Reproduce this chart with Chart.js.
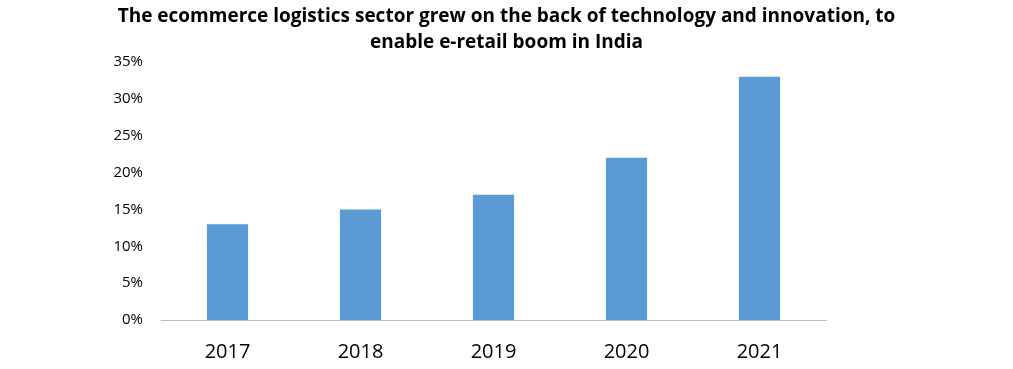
<!DOCTYPE html>
<html>
<head>
<meta charset="utf-8">
<script src="https://cdn.jsdelivr.net/npm/chart.js@4/dist/chart.umd.min.js"></script>
<style>
  html, body { margin: 0; padding: 0; background: #fff; }
  #wrap { width: 1013px; height: 369px; }
</style>
</head>
<body>
<div id="wrap"><canvas id="chart"></canvas></div>
<script>
// data
const years = ["2017", "2018", "2019", "2020", "2021"];
const growth = [13, 15, 17, 22, 33];
const yTicks = [0, 5, 10, 15, 20, 25, 30, 35];

const titleLines = [
    "The ecommerce logistics sector grew on the back of technology and innovation, to",
    "enable e-retail boom in India"
];

const ctx = document.getElementById("chart").getContext("2d");

new Chart(ctx, {
    type: "bar",
    data: {
        labels: years,
        datasets: [{
            data: growth,
            backgroundColor: "#5B9BD5",
            categoryPercentage: 1,
            barPercentage: 0.31
        }]
    },
    options: {
        responsive: true,
        maintainAspectRatio: false,
        animation: false,
        layout: { padding: 0 },
        plugins: {
            legend: { display: false },
            tooltip: { enabled: false },
            title: {
                display: true,
                text: titleLines,
                color: "#000",
                font: { family: "Open Sans", size: 19, weight: "bold", lineHeight: 1.37 },
                padding: { top: 4, bottom: 6 }
            }
        },
        scales: {
            x: {
                grid: { display: false },
                border: { display: true, color: "#bfbfbf", dash: [2, 2], width: 1 },
                ticks: {
                    color: "#000",
                    font: { family: "Open Sans", size: 20 },
                    padding: 12
                },
                afterFit: (scale) => { scale.height = 49; }
            },
            y: {
                min: 0,
                max: 35,
                afterBuildTicks: (scale) => {
                    scale.ticks = yTicks.map(v => ({ value: v }));
                },
                grid: { display: false },
                border: { display: false },
                ticks: {
                    color: "#000",
                    font: { family: "Open Sans", size: 15 },
                    padding: 10,
                    callback: (v) => v + "%"
                },
                afterFit: (scale) => { scale.width = 161; }
            },
            // empty right axis, only to keep the plot area narrow
            yRight: {
                position: "right",
                grid: { display: false },
                border: { display: false },
                ticks: { display: false },
                afterFit: (scale) => { scale.width = 187; }
            }
        }
    }
});
</script>
</body>
</html>
